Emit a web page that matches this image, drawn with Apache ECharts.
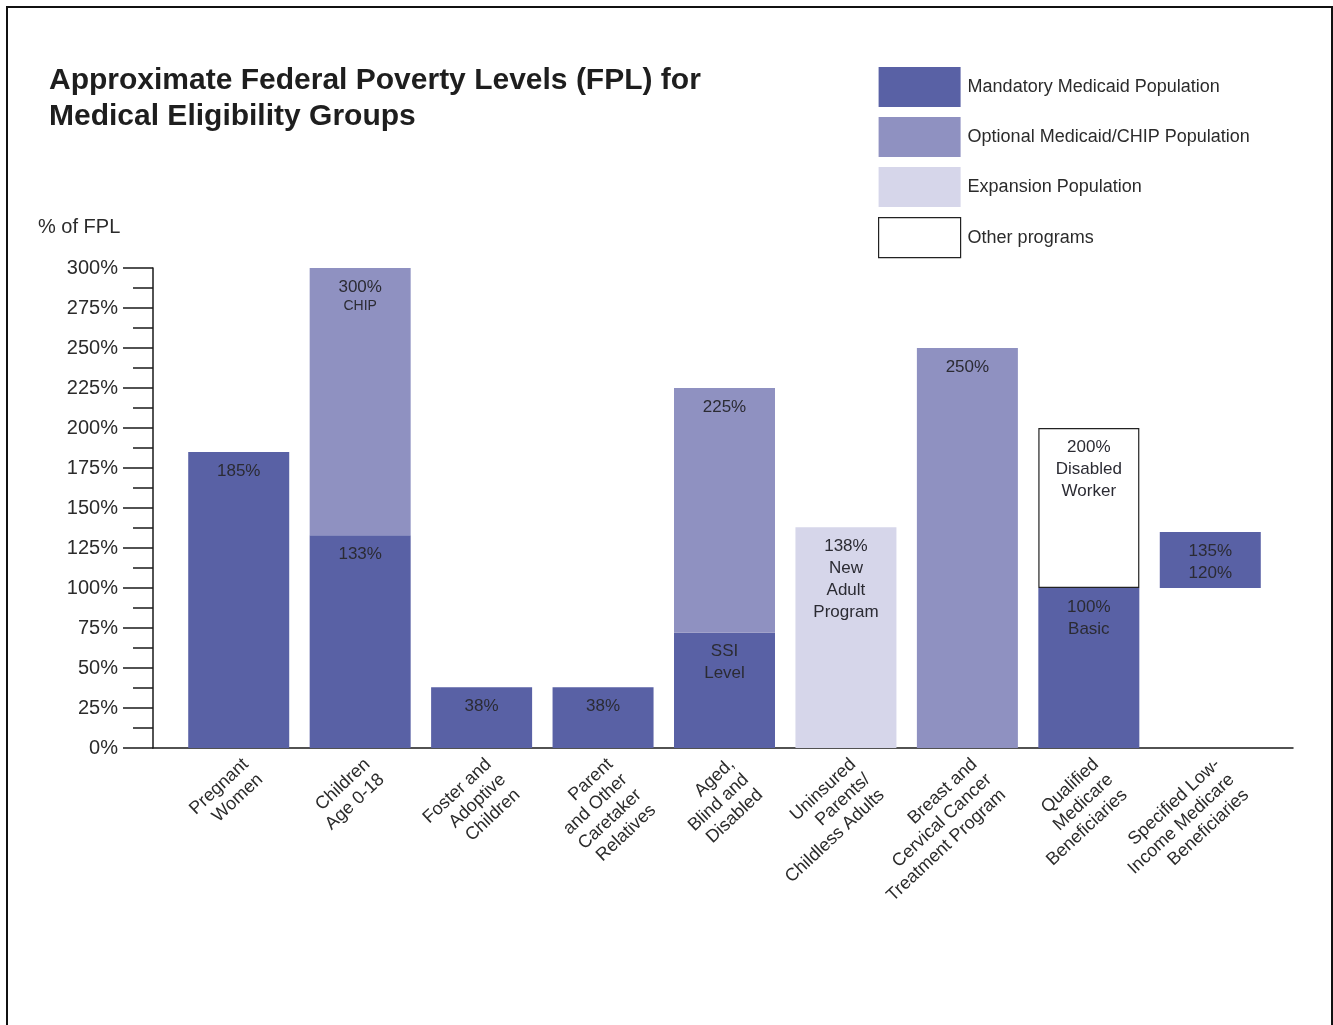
<!DOCTYPE html>
<html>
<head>
<meta charset="utf-8">
<title>Approximate Federal Poverty Levels (FPL) for Medical Eligibility Groups</title>
<script src="https://cdn.jsdelivr.net/npm/echarts@6/dist/echarts.min.js"></script>
<style>
  html, body { margin: 0; padding: 0; background: #fff; }
  #chart { width: 1333px; height: 1025px; }
</style>
</head>
<body>
<div id="chart"></div>
<script>
// Eligibility groups along the category axis
const categories = [
  'Pregnant\nWomen',
  'Children\nAge 0-18',
  'Foster and\nAdoptive\nChildren',
  'Parent\nand Other\nCaretaker\nRelatives',
  'Aged,\nBlind and\nDisabled',
  'Uninsured\nParents/\nChildless Adults',
  'Breast and\nCervical Cancer\nTreatment Program',
  'Qualified\nMedicare\nBeneficiaries',
  'Specified Low-\nIncome Medicare\nBeneficiaries'
];

// Upper and lower edges (% of FPL) of each coverage band; null = no band
const mandatoryLower = [0, 0, 0, 0, 0, null, null, 0, 100];
const mandatoryUpper = [185, 133, 38, 38, 72, null, null, 100, 135];
const optionalUpper  = [null, 300, null, null, 225, null, 250, null, null];
const expansionUpper = [null, null, null, null, null, 138, null, null, null];
const otherUpper     = [null, null, null, null, null, null, null, 200, null];

// Extra wording printed inside the bands
const mandatoryNotes = ['', '', '', '', 'SSI\nLevel', '', '', 'Basic', '120%'];
const mandatoryShowPct = [true, true, true, true, false, false, false, true, true];
const optionalNotes  = ['', '{small|CHIP}', '', '', '', '', '', '', ''];
const expansionNotes = ['', '', '', '', '', 'New\nAdult\nProgram', '', '', ''];
const otherNotes     = ['', '', '', '', '', '', '', 'Disabled\nWorker', ''];

// Y-axis range
const yMin = 0, yMax = 300, yStep = 25;

const COLORS = {
  mandatory: '#5961a5',
  optional: '#8f91c1',
  expansion: '#d6d6ea',
  other: '#ffffff'
};

const base = mandatoryLower.map(v => (v == null ? 0 : v));
function segment(upper, below) {
  return upper.map((u, i) => (u == null ? null : u - (below[i] == null ? 0 : below[i])));
}
const mandatorySeg = segment(mandatoryUpper, mandatoryLower);
const optionalSeg  = segment(optionalUpper, mandatoryUpper);
const expansionSeg = segment(expansionUpper, mandatoryUpper);
const otherSeg     = segment(otherUpper, mandatoryUpper);

function makeLabel(upper, notes, showPct) {
  return function (p) {
    const i = p.dataIndex;
    const parts = [];
    if (!showPct || showPct[i]) parts.push(upper[i] + '%');
    if (notes[i]) parts.push(notes[i]);
    return parts.join('\n');
  };
}

const FONT = "'Liberation Sans', Arial, sans-serif";
const axisLineStyle = { color: '#1a1a1a', width: 1.5 };

const labelBase = {
  show: true,
  position: 'insideTop',
  distance: 8,
  color: '#2b2b33',
  fontFamily: FONT,
  fontSize: 17,
  lineHeight: 22,
  rich: {
    small: { fontSize: 14, lineHeight: 16, color: '#2b2b33', fontFamily: FONT }
  }
};

const chart = echarts.init(document.getElementById('chart'), null, { renderer: 'canvas' });

chart.setOption({
  animation: false,
  backgroundColor: '#ffffff',
  textStyle: { fontFamily: FONT },
  title: [
    {
      text: 'Approximate Federal Poverty Levels (FPL) for\nMedical Eligibility Groups',
      left: 49,
      top: 62,
      padding: 0,
      textStyle: { fontFamily: FONT, fontSize: 30, fontWeight: 'bold', color: '#1e1e1e', lineHeight: 36.5 }
    },
    {
      text: '% of FPL',
      left: 38,
      top: 217,
      padding: 0,
      textStyle: { fontFamily: FONT, fontSize: 20, fontWeight: 'normal', color: '#2b2b2b', lineHeight: 20 }
    }
  ],
  legend: {
    orient: 'vertical',
    left: 878,
    top: 67,
    padding: 0,
    itemWidth: 82,
    itemHeight: 40,
    itemGap: 10,
    icon: 'rect',
    selectedMode: false,
    textStyle: { fontFamily: FONT, fontSize: 18, color: '#2b2b2b', padding: [2, 0, 0, 2] },
    data: [
      { name: 'Mandatory Medicaid Population' },
      { name: 'Optional Medicaid/CHIP Population' },
      { name: 'Expansion Population' },
      { name: 'Other programs', itemStyle: { color: '#ffffff', borderColor: '#222222', borderWidth: 1.2 } }
    ]
  },
  graphic: [
    {
      type: 'rect',
      silent: true,
      shape: { x: 7, y: 7, width: 1325, height: 1100 },
      style: { fill: 'none', stroke: '#111111', lineWidth: 2 }
    }
  ],
  grid: [
    { left: 153, right: 40, top: 268, bottom: 277 },
    { left: 178, right: 62, top: 268, bottom: 277 }
  ],
  xAxis: [
    {
      gridIndex: 0,
      type: 'value',
      min: 0,
      max: 1,
      axisLine: { show: true, lineStyle: axisLineStyle },
      axisTick: { show: false },
      axisLabel: { show: false },
      splitLine: { show: false }
    },
    {
      gridIndex: 1,
      type: 'category',
      data: categories,
      axisLine: { show: false },
      axisTick: { show: false },
      splitLine: { show: false },
      axisLabel: {
        interval: 0,
        rotate: 43,
        align: 'right',
        verticalAlign: 'top',
        margin: 6,
        fontFamily: FONT,
        fontSize: 18,
        lineHeight: 21,
        color: '#2b2b2b'
      }
    }
  ],
  yAxis: [
    {
      gridIndex: 0,
      type: 'value',
      min: yMin,
      max: yMax,
      interval: yStep,
      axisLine: { show: true, lineStyle: axisLineStyle },
      axisTick: { show: true, length: 30, lineStyle: axisLineStyle },
      minorTick: { show: true, splitNumber: 2, length: 20, lineStyle: axisLineStyle },
      minorSplitLine: { show: false },
      splitLine: { show: false },
      axisLabel: {
        formatter: '{value}%',
        margin: 35,
        fontFamily: FONT,
        fontSize: 20,
        color: '#2b2b2b'
      }
    },
    {
      gridIndex: 1,
      type: 'value',
      min: yMin,
      max: yMax,
      show: false
    }
  ],
  series: [
    {
      name: 'base',
      type: 'bar',
      xAxisIndex: 1,
      yAxisIndex: 1,
      stack: 'fpl',
      barWidth: 101,
      silent: true,
      itemStyle: { color: 'transparent' },
      data: base
    },
    {
      name: 'Mandatory Medicaid Population',
      type: 'bar',
      xAxisIndex: 1,
      yAxisIndex: 1,
      stack: 'fpl',
      barWidth: 101,
      itemStyle: { color: COLORS.mandatory },
      label: Object.assign({}, labelBase, { formatter: makeLabel(mandatoryUpper, mandatoryNotes, mandatoryShowPct) }),
      data: mandatorySeg
    },
    {
      name: 'Optional Medicaid/CHIP Population',
      type: 'bar',
      xAxisIndex: 1,
      yAxisIndex: 1,
      stack: 'fpl',
      barWidth: 101,
      itemStyle: { color: COLORS.optional },
      label: Object.assign({}, labelBase, { formatter: makeLabel(optionalUpper, optionalNotes) }),
      data: optionalSeg
    },
    {
      name: 'Expansion Population',
      type: 'bar',
      xAxisIndex: 1,
      yAxisIndex: 1,
      stack: 'fpl',
      barWidth: 101,
      itemStyle: { color: COLORS.expansion },
      label: Object.assign({}, labelBase, { formatter: makeLabel(expansionUpper, expansionNotes) }),
      data: expansionSeg
    },
    {
      name: 'Other programs',
      type: 'bar',
      xAxisIndex: 1,
      yAxisIndex: 1,
      stack: 'fpl',
      barWidth: 101,
      itemStyle: { color: COLORS.other, borderColor: '#222222', borderWidth: 1.2 },
      label: Object.assign({}, labelBase, { formatter: makeLabel(otherUpper, otherNotes) }),
      data: otherSeg
    }
  ]
});
</script>
</body>
</html>
